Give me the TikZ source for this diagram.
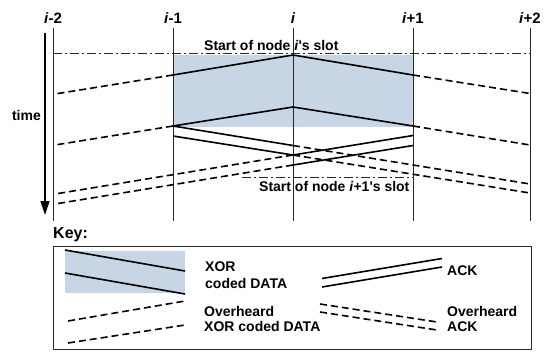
\documentclass[tikz,border=0pt]{standalone}
\usepackage{fontspec}
\setmainfont{Liberation Sans}[Ligatures=TeXOff]
\usetikzlibrary{arrows.meta}
\definecolor{slotblue}{RGB}{200,213,228}
\definecolor{axisgray}{RGB}{40,40,40}
\begin{document}
\begin{tikzpicture}[x=1pt,y=-1pt,
  txt/.style={inner sep=0pt,font=\fontsize{14}{16}\selectfont\bfseries},
  lbl/.style={inner sep=0pt,font=\fontsize{15}{17}\selectfont\bfseries},
  nodeline/.style={draw=axisgray,line width=0.8pt},
  slotline/.style={draw=axisgray,line width=0.7pt,dash pattern=on 9pt off 3pt on 2pt off 3pt},
  data/.style={draw=black,line width=1.6pt},
  heard/.style={draw=black,line width=1.6pt,dash pattern=on 7pt off 4pt},
  keybox/.style={draw=axisgray,line width=0.9pt}]
\useasboundingbox (0,0) rectangle (548,351);

% node i's slot shading
\fill[slotblue] (173,55) rectangle (413,127);

% node time lines and their labels
\foreach \n/\x/\t in {a/53/{\textit{i}-2},b/173/{\textit{i}-1},c/293/{\textit{i}},d/413/{\textit{i}+1},e/530/{\textit{i}+2}}{
  \node[lbl,anchor=base] (lab\n) at (\x,23) {\t};
  \coordinate (top\n) at (\x,28);
  \coordinate (bot\n) at (\x,221);
  \draw[nodeline] (top\n) -- (bot\n);
}

% time axis
\coordinate (tA) at (45,33);
\coordinate (tB) at (45,215);
\draw[line width=1.3pt,-{Triangle[length=14pt,width=9pt]}] (tA) -- (tB);
\node[txt,anchor=base east] (time) at (41,120.5) {time};

% slot boundaries
\coordinate (s1a) at (53,53);
\coordinate (s1b) at (530,53);
\draw[slotline] (s1a) -- (s1b);
\node[txt,anchor=base west] (slot1) at (204,50) {Start of node \textit{i}'s slot};
\coordinate (s2a) at (242,177);
\coordinate (s2b) at (413,177);
\draw[slotline] (s2a) -- (s2b);
\node[txt,anchor=base west] (slot2) at (259,191.5) {Start of node \textit{i}+1's slot};

% XOR coded DATA sent by node i
\coordinate (d1l) at (173,75);   \coordinate (d1m) at (293,55);   \coordinate (d1r) at (413,75);
\coordinate (d1ll) at (55,94);   \coordinate (d1rr) at (530,93.5);
\coordinate (d2l) at (173,126);  \coordinate (d2m) at (293,107);  \coordinate (d2r) at (413,126);
\coordinate (d2ll) at (55,145);  \coordinate (d2rr) at (530,145);
\draw[data] (d1l) -- (d1m) -- (d1r);
\draw[data] (d2l) -- (d2m) -- (d2r);
\draw[heard] (d1l) -- (d1ll);
\draw[heard] (d1r) -- (d1rr);
\draw[heard] (d2l) -- (d2ll);
\draw[heard] (d2r) -- (d2rr);

% ACKs from node i-1
\coordinate (a1s) at (173,126);  \coordinate (a1m) at (293,145.5); \coordinate (a1e) at (530,184);
\coordinate (a2s) at (173,136);  \coordinate (a2m) at (293,155);   \coordinate (a2e) at (530,193);
\draw[data] (a1s) -- (a1m);
\draw[data] (a2s) -- (a2m);
\draw[heard] (a1m) -- (a1e);
\draw[heard] (a2m) -- (a2e);

% ACKs from node i+1
\coordinate (b1s) at (413,135.5); \coordinate (b1m) at (293,155);   \coordinate (b1e) at (55,194);
\coordinate (b2s) at (413,145.5); \coordinate (b2m) at (293,165);   \coordinate (b2e) at (55,204);
\draw[data] (b1s) -- (b1m);
\draw[data] (b2s) -- (b2m);
\draw[heard] (b1m) -- (b1e);
\draw[heard] (b2m) -- (b2e);

% key
\node[inner sep=0pt,font=\fontsize{16}{18}\selectfont\bfseries,anchor=base west] (key) at (53,238.5) {Key:};
\coordinate (kb1) at (53,246);
\coordinate (kb2) at (531,349);
\draw[keybox] (kb1) rectangle (kb2);

\fill[slotblue] (65,251) rectangle (185,293);
\coordinate (k1a) at (65,250);  \coordinate (k1b) at (185,271);
\coordinate (k2a) at (65,273);  \coordinate (k2b) at (185,294);
\draw[data] (k1a) -- (k1b);
\draw[data] (k2a) -- (k2b);
\node[txt,anchor=base west] (kx1) at (205,271.5) {XOR};
\node[txt,anchor=base west] (kx2) at (205,288.3) {coded DATA};

\coordinate (k3a) at (68,321);  \coordinate (k3b) at (185,301);
\coordinate (k4a) at (68,343);  \coordinate (k4b) at (185,325);
\draw[heard] (k3a) -- (k3b);
\draw[heard] (k4a) -- (k4b);
\node[txt,anchor=base west] (ko1) at (204,316) {Overheard};
\node[txt,anchor=base west] (ko2) at (204,331.7) {XOR coded DATA};

\coordinate (k5a) at (322,278.5); \coordinate (k5b) at (442,258.5);
\coordinate (k6a) at (322,287);   \coordinate (k6b) at (442,267);
\draw[data] (k5a) -- (k5b);
\draw[data] (k6a) -- (k6b);
\node[txt,anchor=base west] (ka1) at (447,275) {ACK};

\coordinate (k7a) at (320,304);   \coordinate (k7b) at (437,322);
\coordinate (k8a) at (320,312);   \coordinate (k8b) at (437,330);
\draw[heard] (k7a) -- (k7b);
\draw[heard] (k8a) -- (k8b);
\node[txt,anchor=base west] (ka2) at (447,316) {Overheard};
\node[txt,anchor=base west] (ka3) at (447,331.7) {ACK};
\end{tikzpicture}
\end{document}
